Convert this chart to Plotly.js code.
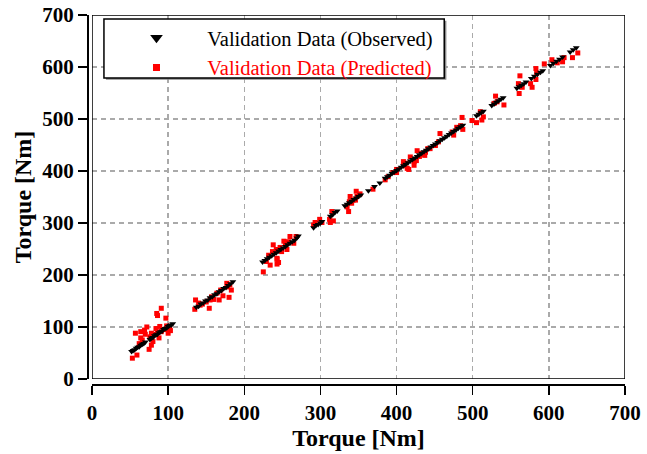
<!DOCTYPE html>
<html>
<head>
<meta charset="utf-8">
<script src="https://cdn.plot.ly/plotly-3.0.1.min.js"></script>
<style>html,body{margin:0;padding:0;background:#fff;}#chart{width:647px;height:454px;}</style>
</head>
<body>
<div id="chart"></div>
<script>
// Validation Data (Observed)
const obsX = [52,54,56,58,60,62,64,66,68,70,76,78,80,82,84,86,88,90,92,94,96,98,100,102,104,106,
  137,140,143,146,149,152,155,158,161,164,167,170,173,176,179,182,185,
  224,227,230,233,236,239,242,245,248,251,254,257,260,263,266,269,271,
  291,294,297,300,302,313,316,319,322,
  332,335,338,341,344,347,350,353,363,371,378,
  385,388,391,394,397,400,403,406,409,412,415,418,421,424,427,430,433,436,439,442,445,448,451,454,457,460,463,466,469,472,475,478,481,484,487,
  505,508,511,514,525,528,531,534,537,540,558,561,564,567,570,577,581,585,589,592,602,606,610,614,618,628,632,636];
const obsY = [53,55,56,59,61,62,65,67,68,71,76,79,80,83,85,86,89,91,92,95,97,98,101,103,104,106,
  138,140,144,146,150,152,156,158,162,164,168,170,174,176,180,183,187,
  225,228,231,234,237,240,243,246,249,252,255,258,261,264,267,271,275,
  291,295,297,300,303,313,316,320,323,
  333,336,339,342,345,348,351,354,362,370,377,
  386,389,392,395,398,401,404,407,410,413,416,419,422,425,428,431,434,437,440,443,446,449,452,455,458,461,464,467,470,473,476,479,482,485,488,
  506,509,512,515,526,529,532,535,538,541,559,562,565,568,571,578,582,586,590,593,603,607,611,615,619,629,633,637];

// Validation Data (Predicted)
const predX = [91,85,86,97,57,64,69,84,89,98,102,64,66,62,76,78,80,78,75,53,59,88,91,100,103,94,84,86,101,72,70,
  136,135,142,145,154,155,160,167,164,169,177,181,183,180,178,157,150,140,172,
  225,234,229,243,243,245,243,237,242,247,249,254,256,260,268,265,258,252,238,232,
  293,299,291,302,312,315,313,317,
  337,335,338,343,348,352,347,339,341,346,369,
  385,389,395,400,400,409,412,416,418,423,423,426,430,434,441,438,409,414,427,433,437,444,451,455,457,473,475,479,484,486,487,499,505,510,514,512,
  530,532,541,528,562,560,565,561,576,578,583,584,583,594,604,611,620,618,631,638];
const predY = [136,126,122,117,88,91,94,97,101,102,101,79,75,68,81,88,72,65,57,40,46,79,91,88,93,95,86,90,97,100,86,
  152,134,142,144,136,152,153,152,165,171,184,181,171,157,177,158,148,146,160,
  206,219,226,232,230,224,221,245,249,253,245,261,249,274,274,261,264,265,258,238,
  301,307,296,301,307,322,301,304,
  322,331,341,344,351,356,361,351,338,344,365,
  383,389,397,403,397,410,415,403,427,418,411,420,428,432,443,436,418,405,439,434,430,443,449,456,472,475,469,484,487,503,480,497,493,514,504,498,
  544,533,527,530,583,568,561,549,568,561,576,588,597,606,614,608,618,610,618,627];

const xTicks = [0,100,200,300,400,500,600,700];
const yTicks = [0,100,200,300,400,500,600,700];
const obsName = 'Validation Data (Observed)';
const predName = 'Validation Data (Predicted)';

const FONT = 'Liberation Serif, Times New Roman, serif';
const sp = '\u00a0\u00a0\u00a0\u00a0\u00a0\u00a0';

const traces = [
  {x: predX, y: predY, type: 'scatter', mode: 'markers', name: predName, showlegend: false,
   marker: {symbol: 'square', size: 5, color: '#ff0000'}},
  {x: obsX, y: obsY, type: 'scatter', mode: 'markers', name: obsName, showlegend: false,
   marker: {symbol: 'triangle-down', size: 6, color: '#000000'}},
  // legend entries (no data, larger legend symbols)
  {x: [null], y: [null], type: 'scatter', mode: 'markers', name: sp + obsName, legendrank: 1,
   marker: {symbol: 'triangle-down', size: 11, color: '#000000'}},
  {x: [null], y: [null], type: 'scatter', mode: 'markers', name: sp + '<span style="color:#ff0000">' + predName + '</span>', legendrank: 2,
   marker: {symbol: 'square', size: 7, color: '#ff0000'}}
];

const axisCommon = {
  range: [0, 700], tickvals: xTicks, ticktext: xTicks.map(String),
  showline: true, linecolor: '#000', linewidth: 1.5,
  ticks: 'outside', ticklen: 9, tickwidth: 1.5, tickcolor: '#000',
  showgrid: true, gridcolor: '#aaaaaa', gridwidth: 1.5, griddash: '5px,4px',
  zeroline: false, anchor: 'free', position: 0,
  tickfont: {family: FONT, size: 21, color: '#000', weight: 'bold'},
  fixedrange: true
};

const layout = {
  width: 647, height: 454,
  margin: {l: 87, r: 22, t: 15, b: 70},
  paper_bgcolor: '#fff', plot_bgcolor: '#fff',
  showlegend: true,
  legend: {x: 0.092, y: 0.992, xanchor: 'left', yanchor: 'top', bgcolor: 'rgba(0,0,0,0)', borderwidth: 0,
    font: {family: FONT, size: 20.5, color: '#000'}, tracegroupgap: 0, itemsizing: 'trace'},
  xaxis: Object.assign({}, axisCommon, {domain: [0.0093, 1],
    title: {text: '<b>Torque [Nm]</b>', font: {family: FONT, size: 24, color: '#000'}, standoff: 5}}),
  yaxis: Object.assign({}, axisCommon, {domain: [0.0136, 1], tickvals: yTicks, ticktext: yTicks.map(String),
    title: {text: '<b>Torque [Nm]</b>', font: {family: FONT, size: 24, color: '#000'}, standoff: 2}}),
  shapes: [
    {type: 'rect', xref: 'x', yref: 'y', x0: 0, x1: 700, y0: 0, y1: 700, line: {color: '#000', width: 1.5}, layer: 'above'},
    {type: 'rect', xref: 'paper', yref: 'paper', x0: 0.0352, x1: 0.668, y0: 0.8243, y1: 0.9842, fillcolor: '#888', line: {width: 0}, layer: 'above'},
    {type: 'rect', xref: 'paper', yref: 'paper', x0: 0.0315, x1: 0.664, y0: 0.8293, y1: 0.9892, fillcolor: '#fff', line: {color: '#000', width: 1.5}, layer: 'above'}
  ]
};

Plotly.newPlot('chart', traces, layout, {staticPlot: true, displayModeBar: false});
</script>
</body>
</html>
